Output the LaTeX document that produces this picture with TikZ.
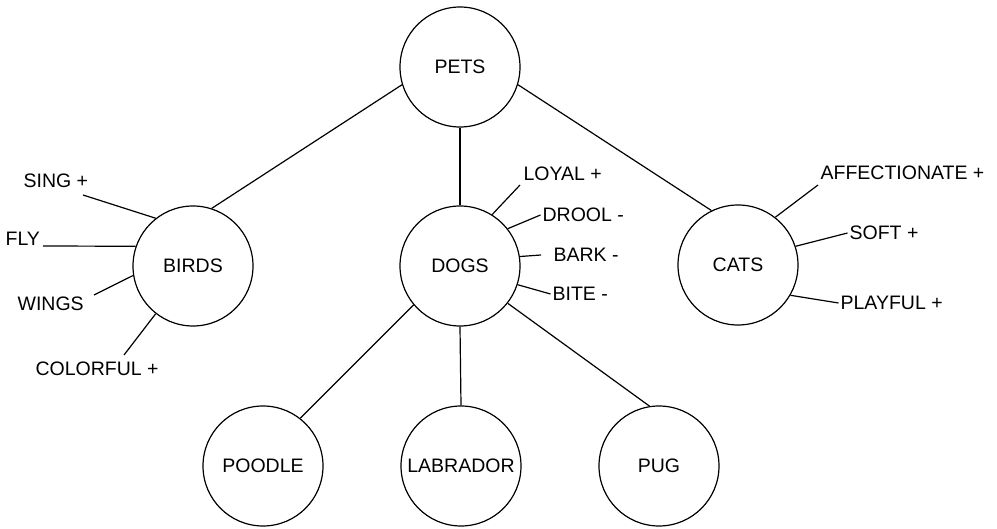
\documentclass[tikz,border=0pt]{standalone}
\usepackage{fontspec}
\setmainfont{Liberation Sans}
\begin{document}
\begin{tikzpicture}[x=1pt,y=-1pt,
  line width=1.2pt,
  topic/.style={circle,draw,minimum size=120pt,inner sep=0pt,
    font=\fontsize{19.5}{23}\selectfont},
  attr/.style={inner sep=1.5pt,anchor=west,
    font=\fontsize{19.5}{23}\selectfont},
  link/.style={draw,line width=1.2pt}]
\useasboundingbox (0,0) rectangle (997,529);

% category circles
\node[topic] (pets)     at (460,67)  {PETS};
\node[topic] (birds)    at (193,266) {BIRDS};
\node[topic] (dogs)     at (460,266) {DOGS};
\node[topic] (cats)     at (738,265) {CATS};
\node[topic] (poodle)   at (263,466) {POODLE};
\node[topic] (labrador) at (461,466) {LABRADOR};
\node[topic] (pug)      at (659,466) {PUG};

% attribute labels
\node[attr] (sing)     at (21.5,181) {SING +};
\node[attr] (fly)      at (3.5,239)  {FLY};
\node[attr] (wings)    at (15.5,304) {WINGS};
\node[attr] (colorful) at (33.5,369) {COLORFUL +};
\node[attr] (loyal)    at (521.5,174) {LOYAL +};
\node[attr] (drool)    at (540.5,215) {DROOL -};
\node[attr] (bark)     at (551.5,255) {BARK -};
\node[attr] (bite)     at (550.5,294) {BITE -};
\node[attr] (affect)   at (818.5,173) {AFFECTIONATE +};
\node[attr] (soft)     at (847.5,233) {SOFT +};
\node[attr] (playful)  at (838.5,303) {PLAYFUL +};

% free ends of the attribute strokes
\coordinate (singEnd)     at (83,195);
\coordinate (flyEnd)      at (43,246);
\coordinate (wingsEnd)    at (94,295);
\coordinate (colorfulEnd) at (124,355);
\coordinate (loyalEnd)    at (520,185);
\coordinate (barkEnd)     at (541,255);
\coordinate (affectEnd)   at (818,185);

% hierarchy
\draw[link] (pets.197) -- (birds.72);
\draw[link] (pets.south) -- (dogs.north);
\draw[link] (pets.343) -- (cats.116);
\draw[link] (dogs.220) -- (poodle.52);
\draw[link] (dogs.south) -- (labrador.north);
\draw[link] (dogs.-38) -- (pug.99);

% bird attributes
\draw[link] (birds.128) -- (singEnd);
\draw[link] (birds.161) -- (flyEnd);
\draw[link] (birds.189) -- (wingsEnd);
\draw[link] (birds.232) -- (colorfulEnd);

% dog attributes
\draw[link] (dogs.58) -- (loyalEnd);
\draw[link] (dogs.38) -- (drool.west);
\draw[link] (dogs.9)  -- (barkEnd);
\draw[link] (dogs.-18) -- (bite.west);

% cat attributes
\draw[link] (cats.52)  -- (affectEnd);
\draw[link] (cats.18)  -- (soft.west);
\draw[link] (cats.-30) -- (playful.west);
\end{tikzpicture}
\end{document}
